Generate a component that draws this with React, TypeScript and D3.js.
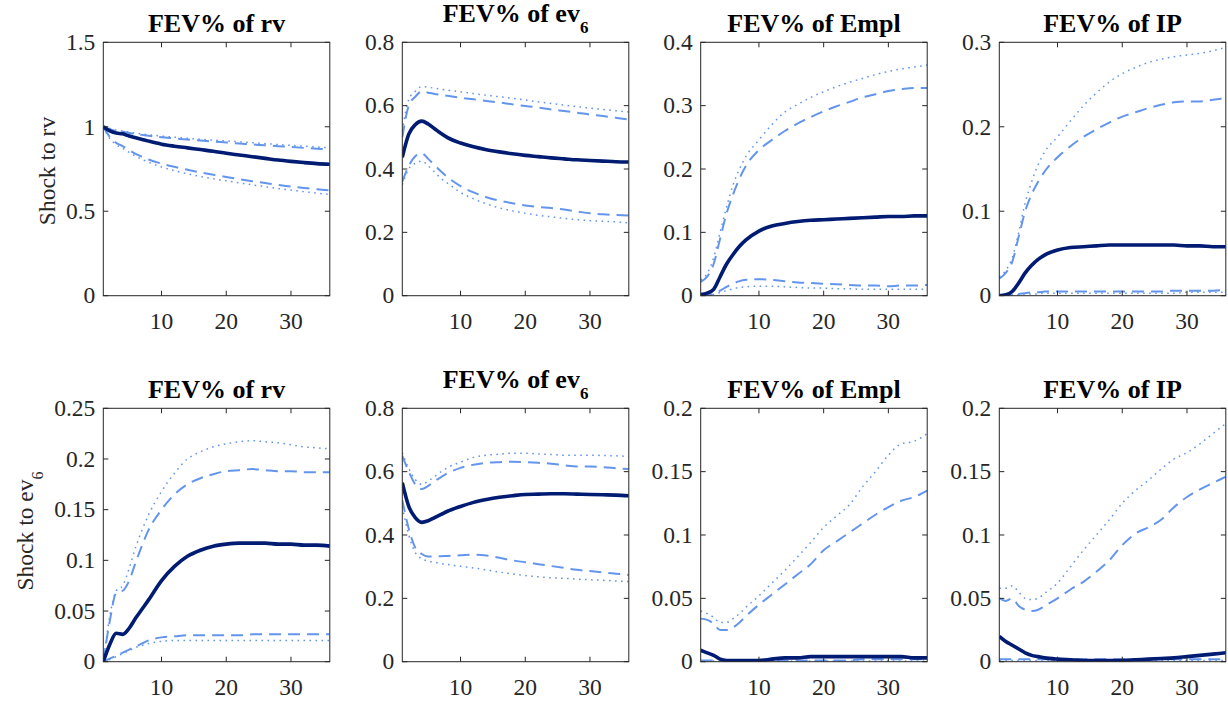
import React from "react";
import * as d3 from "d3";

const HORIZON = [1, 2, 3, 4, 5, 6, 7, 8, 10, 12, 14, 16, 18, 20, 22, 24, 26, 28, 30, 32, 34, 36];
const X_TICKS = [10, 20, 30];
const VARIABLES = ["rv", "ev", "Empl", "IP"];
const VAR_SUB = ["", "6", "", ""];
const SHOCKS = ["rv", "ev"];
const SHOCK_SUB = ["", "6"];

// Row 1: shock to rv
const RV_RV_MED = [1.0, 0.975, 0.963, 0.958, 0.945, 0.935, 0.925, 0.915, 0.897, 0.885, 0.875, 0.865, 0.855, 0.843, 0.833, 0.823, 0.813, 0.803, 0.795, 0.788, 0.782, 0.778];
const RV_RV_UP68 = [1.0, 0.985, 0.975, 0.97, 0.963, 0.957, 0.952, 0.947, 0.938, 0.931, 0.924, 0.918, 0.912, 0.907, 0.901, 0.896, 0.89, 0.885, 0.88, 0.875, 0.87, 0.866];
const RV_RV_UP90 = [1.0, 0.99, 0.98, 0.975, 0.968, 0.962, 0.957, 0.953, 0.945, 0.938, 0.932, 0.926, 0.921, 0.916, 0.911, 0.906, 0.9, 0.895, 0.89, 0.885, 0.88, 0.876];
const RV_RV_LO68 = [1.0, 0.94, 0.905, 0.885, 0.862, 0.84, 0.822, 0.806, 0.782, 0.763, 0.746, 0.73, 0.716, 0.703, 0.69, 0.678, 0.667, 0.656, 0.646, 0.638, 0.63, 0.624];
const RV_RV_LO90 = [1.0, 0.93, 0.895, 0.872, 0.848, 0.826, 0.806, 0.79, 0.762, 0.74, 0.722, 0.706, 0.692, 0.68, 0.668, 0.656, 0.645, 0.634, 0.625, 0.616, 0.607, 0.6];

const RV_EV_MED = [0.437, 0.51, 0.54, 0.551, 0.542, 0.527, 0.512, 0.499, 0.482, 0.47, 0.461, 0.454, 0.448, 0.443, 0.439, 0.435, 0.432, 0.429, 0.427, 0.425, 0.423, 0.422];
const RV_EV_UP68 = [0.5, 0.6, 0.628, 0.645, 0.641, 0.637, 0.634, 0.631, 0.625, 0.62, 0.615, 0.61, 0.604, 0.599, 0.594, 0.588, 0.583, 0.578, 0.572, 0.567, 0.562, 0.556];
const RV_EV_UP90 = [0.52, 0.62, 0.645, 0.66, 0.658, 0.655, 0.652, 0.649, 0.644, 0.638, 0.633, 0.628, 0.623, 0.618, 0.612, 0.607, 0.602, 0.597, 0.592, 0.588, 0.584, 0.58];
const RV_EV_LO68 = [0.36, 0.41, 0.44, 0.45, 0.432, 0.412, 0.392, 0.374, 0.346, 0.326, 0.311, 0.3, 0.292, 0.285, 0.28, 0.277, 0.272, 0.266, 0.26, 0.257, 0.255, 0.253];
const RV_EV_LO90 = [0.35, 0.4, 0.418, 0.425, 0.41, 0.39, 0.37, 0.355, 0.326, 0.306, 0.29, 0.277, 0.268, 0.26, 0.254, 0.249, 0.244, 0.24, 0.237, 0.235, 0.233, 0.23];

const RV_EMPL_MED = [0.002, 0.004, 0.01, 0.03, 0.05, 0.065, 0.078, 0.088, 0.102, 0.11, 0.114, 0.117, 0.119, 0.12, 0.121, 0.122, 0.123, 0.124, 0.125, 0.125, 0.126, 0.126];
const RV_EMPL_UP68 = [0.022, 0.03, 0.05, 0.09, 0.13, 0.16, 0.185, 0.205, 0.23, 0.246, 0.26, 0.272, 0.282, 0.291, 0.299, 0.306, 0.313, 0.318, 0.323, 0.326, 0.328, 0.328];
const RV_EMPL_UP90 = [0.025, 0.035, 0.06, 0.1, 0.14, 0.175, 0.2, 0.22, 0.246, 0.27, 0.29, 0.302, 0.313, 0.322, 0.33, 0.337, 0.343, 0.349, 0.354, 0.358, 0.361, 0.364];
const RV_EMPL_LO68 = [0.0, 0.0, 0.003, 0.008, 0.014, 0.019, 0.023, 0.025, 0.026, 0.025, 0.023, 0.021, 0.02, 0.019, 0.018, 0.017, 0.016, 0.016, 0.015, 0.016, 0.016, 0.017];
const RV_EMPL_LO90 = [0.0, 0.0, 0.002, 0.005, 0.008, 0.011, 0.013, 0.014, 0.015, 0.015, 0.014, 0.013, 0.012, 0.012, 0.011, 0.011, 0.01, 0.01, 0.01, 0.01, 0.01, 0.01];

const RV_IP_MED = [0.0, 0.001, 0.005, 0.015, 0.027, 0.036, 0.043, 0.048, 0.054, 0.057, 0.058, 0.059, 0.06, 0.06, 0.06, 0.06, 0.06, 0.06, 0.059, 0.059, 0.058, 0.058];
const RV_IP_UP68 = [0.02, 0.027, 0.04, 0.07, 0.1, 0.12, 0.135, 0.147, 0.164, 0.177, 0.188, 0.197, 0.205, 0.212, 0.217, 0.222, 0.226, 0.229, 0.23, 0.23, 0.232, 0.234];
const RV_IP_UP90 = [0.022, 0.03, 0.045, 0.075, 0.11, 0.135, 0.155, 0.17, 0.188, 0.207, 0.225, 0.24, 0.253, 0.263, 0.27, 0.276, 0.28, 0.283, 0.285, 0.287, 0.29, 0.294];
const RV_IP_LO68 = [0.0, 0.0, 0.001, 0.002, 0.003, 0.004, 0.004, 0.005, 0.005, 0.005, 0.005, 0.005, 0.005, 0.005, 0.005, 0.005, 0.005, 0.006, 0.006, 0.006, 0.006, 0.007];
const RV_IP_LO90 = [0.0, 0.0, 0.001, 0.001, 0.002, 0.002, 0.002, 0.003, 0.003, 0.003, 0.003, 0.003, 0.003, 0.003, 0.003, 0.003, 0.003, 0.003, 0.004, 0.004, 0.004, 0.004];

// Row 2: shock to ev6
const EV_RV_MED = [0.0, 0.017, 0.028, 0.027, 0.033, 0.043, 0.052, 0.061, 0.08, 0.094, 0.104, 0.11, 0.114, 0.116, 0.117, 0.117, 0.117, 0.116, 0.116, 0.115, 0.115, 0.114];
const EV_RV_UP68 = [0.0, 0.04, 0.068, 0.07, 0.08, 0.098, 0.115, 0.13, 0.15, 0.165, 0.175, 0.181, 0.185, 0.188, 0.189, 0.19, 0.189, 0.188, 0.188, 0.187, 0.187, 0.187];
const EV_RV_UP90 = [0.0, 0.045, 0.07, 0.075, 0.092, 0.113, 0.13, 0.145, 0.168, 0.186, 0.2, 0.207, 0.212, 0.215, 0.217, 0.218, 0.217, 0.216, 0.214, 0.212, 0.211, 0.21];
const EV_RV_LO68 = [0.0, 0.003, 0.006, 0.009, 0.012, 0.015, 0.018, 0.021, 0.024, 0.025, 0.026, 0.026, 0.026, 0.026, 0.026, 0.027, 0.027, 0.027, 0.027, 0.027, 0.027, 0.027];
const EV_RV_LO90 = [0.0, 0.002, 0.005, 0.008, 0.011, 0.014, 0.016, 0.018, 0.02, 0.021, 0.021, 0.021, 0.021, 0.021, 0.021, 0.021, 0.021, 0.021, 0.021, 0.021, 0.021, 0.021];

const EV_EV_MED = [0.565, 0.49, 0.455, 0.44, 0.445, 0.455, 0.465, 0.475, 0.49, 0.503, 0.512, 0.519, 0.524, 0.528, 0.529, 0.53, 0.53, 0.529, 0.528, 0.527, 0.526, 0.524];
const EV_EV_UP68 = [0.65, 0.6, 0.56, 0.545, 0.555, 0.57, 0.583, 0.595, 0.612, 0.622, 0.628, 0.63, 0.631, 0.63, 0.628, 0.625, 0.62, 0.616, 0.616, 0.614, 0.611, 0.608];
const EV_EV_UP90 = [0.66, 0.61, 0.575, 0.56, 0.57, 0.585, 0.6, 0.613, 0.63, 0.645, 0.652, 0.655, 0.658, 0.658, 0.656, 0.654, 0.652, 0.652, 0.652, 0.651, 0.65, 0.648];
const EV_EV_LO68 = [0.51, 0.42, 0.36, 0.34, 0.332, 0.332, 0.333, 0.334, 0.336, 0.338, 0.335, 0.328, 0.32, 0.314, 0.308, 0.302, 0.296, 0.29, 0.286, 0.282, 0.278, 0.274];
const EV_EV_LO90 = [0.49, 0.4, 0.345, 0.325, 0.318, 0.314, 0.31, 0.307, 0.301, 0.296, 0.29, 0.283, 0.277, 0.272, 0.268, 0.265, 0.263, 0.261, 0.259, 0.257, 0.255, 0.253];

const EV_EMPL_MED = [0.009, 0.007, 0.005, 0.002, 0.001, 0.001, 0.001, 0.001, 0.001, 0.002, 0.003, 0.003, 0.004, 0.004, 0.004, 0.004, 0.004, 0.004, 0.004, 0.004, 0.003, 0.003];
const EV_EMPL_UP68 = [0.034, 0.033, 0.03, 0.025, 0.025, 0.027, 0.031, 0.036, 0.045, 0.053, 0.061, 0.069, 0.077, 0.088, 0.095, 0.102, 0.109, 0.116, 0.122, 0.127, 0.13, 0.135];
const EV_EMPL_UP90 = [0.04, 0.038, 0.035, 0.031, 0.031, 0.034, 0.038, 0.043, 0.052, 0.062, 0.072, 0.083, 0.094, 0.106, 0.115, 0.124, 0.138, 0.15, 0.163, 0.172, 0.174, 0.18];
const EV_EMPL_LO68 = [0.001, 0.001, 0.001, 0.001, 0.001, 0.001, 0.001, 0.001, 0.001, 0.001, 0.001, 0.001, 0.001, 0.001, 0.001, 0.001, 0.002, 0.002, 0.002, 0.002, 0.002, 0.002];
const EV_EMPL_LO90 = [0.0005, 0.0005, 0.0005, 0.0005, 0.0005, 0.0005, 0.0005, 0.0005, 0.0005, 0.0005, 0.0005, 0.0005, 0.0005, 0.0005, 0.0005, 0.0005, 0.0005, 0.0005, 0.0005, 0.0005, 0.0005, 0.0005];

const EV_IP_MED = [0.02, 0.016, 0.013, 0.01, 0.007, 0.005, 0.004, 0.003, 0.002, 0.0015, 0.001, 0.001, 0.001, 0.001, 0.0015, 0.002, 0.0025, 0.003, 0.004, 0.005, 0.006, 0.007];
const EV_IP_UP68 = [0.05, 0.048, 0.05, 0.044, 0.041, 0.04, 0.041, 0.044, 0.05, 0.057, 0.063, 0.071, 0.08, 0.092, 0.101, 0.106, 0.112, 0.122, 0.13, 0.136, 0.141, 0.146];
const EV_IP_UP90 = [0.058, 0.058, 0.06, 0.055, 0.05, 0.049, 0.05, 0.054, 0.062, 0.075, 0.088, 0.1, 0.112, 0.125, 0.135, 0.143, 0.152, 0.16, 0.165, 0.172, 0.18, 0.188];
const EV_IP_LO68 = [0.002, 0.002, 0.002, 0.002, 0.002, 0.002, 0.002, 0.002, 0.002, 0.002, 0.002, 0.002, 0.002, 0.002, 0.002, 0.002, 0.002, 0.002, 0.002, 0.002, 0.002, 0.002];
const EV_IP_LO90 = [0.001, 0.001, 0.001, 0.001, 0.001, 0.001, 0.001, 0.001, 0.001, 0.001, 0.001, 0.001, 0.001, 0.001, 0.001, 0.001, 0.001, 0.001, 0.001, 0.001, 0.001, 0.001];

// Y tick labels per panel
const Y_TICKS_RV_RV = [0, 0.5, 1, 1.5];
const Y_TICKS_RV_EV = [0, 0.2, 0.4, 0.6, 0.8];
const Y_TICKS_RV_EMPL = [0, 0.1, 0.2, 0.3, 0.4];
const Y_TICKS_RV_IP = [0, 0.1, 0.2, 0.3];
const Y_TICKS_EV_RV = [0, 0.05, 0.1, 0.15, 0.2, 0.25];
const Y_TICKS_EV_EV = [0, 0.2, 0.4, 0.6, 0.8];
const Y_TICKS_EV_EMPL = [0, 0.05, 0.1, 0.15, 0.2];
const Y_TICKS_EV_IP = [0, 0.05, 0.1, 0.15, 0.2];

const PANELS = [
  [
    { ticks: Y_TICKS_RV_RV, med: RV_RV_MED, up68: RV_RV_UP68, up90: RV_RV_UP90, lo68: RV_RV_LO68, lo90: RV_RV_LO90 },
    { ticks: Y_TICKS_RV_EV, med: RV_EV_MED, up68: RV_EV_UP68, up90: RV_EV_UP90, lo68: RV_EV_LO68, lo90: RV_EV_LO90 },
    { ticks: Y_TICKS_RV_EMPL, med: RV_EMPL_MED, up68: RV_EMPL_UP68, up90: RV_EMPL_UP90, lo68: RV_EMPL_LO68, lo90: RV_EMPL_LO90 },
    { ticks: Y_TICKS_RV_IP, med: RV_IP_MED, up68: RV_IP_UP68, up90: RV_IP_UP90, lo68: RV_IP_LO68, lo90: RV_IP_LO90 },
  ],
  [
    { ticks: Y_TICKS_EV_RV, med: EV_RV_MED, up68: EV_RV_UP68, up90: EV_RV_UP90, lo68: EV_RV_LO68, lo90: EV_RV_LO90 },
    { ticks: Y_TICKS_EV_EV, med: EV_EV_MED, up68: EV_EV_UP68, up90: EV_EV_UP90, lo68: EV_EV_LO68, lo90: EV_EV_LO90 },
    { ticks: Y_TICKS_EV_EMPL, med: EV_EMPL_MED, up68: EV_EMPL_UP68, up90: EV_EMPL_UP90, lo68: EV_EMPL_LO68, lo90: EV_EMPL_LO90 },
    { ticks: Y_TICKS_EV_IP, med: EV_IP_MED, up68: EV_IP_UP68, up90: EV_IP_UP90, lo68: EV_IP_LO68, lo90: EV_IP_LO90 },
  ],
];

const W = 1228;
const H = 702;
const COL_LEFT = [103.3, 402.3, 700.7, 999.3];
const ROW_TOP = [42.3, 408.3];
const AX_W = 226.5;
const AX_H = 253.4;
const AXIS_COLOR = "#262626";
const NAVY = "#001b72";
const LIGHT = "#6495ED";
const FONT = "'Liberation Serif', 'Times New Roman', serif";
const TICK_FS = 23.5;
const TITLE_FS = 26;
const TICK_LEN = 5;

function Panel({ r, c }: { r: number; c: number }) {
  const p = PANELS[r][c];
  const left = COL_LEFT[c];
  const top = ROW_TOP[r];
  const x = d3.scaleLinear().domain([1, 36]).range([0, AX_W]);
  const yMax = p.ticks[p.ticks.length - 1];
  const y = d3.scaleLinear().domain([0, yMax]).range([AX_H, 0]);
  const line = d3
    .line<number>()
    .x((_, i) => x(HORIZON[i]))
    .y((d) => y(d))
    .curve(d3.curveMonotoneX);
  const clipId = `clip-${r}-${c}`;
  const series = [
    { d: p.lo90, dash: "1.6,4.4", w: 1.5, color: LIGHT },
    { d: p.up90, dash: "1.6,4.4", w: 1.5, color: LIGHT },
    { d: p.lo68, dash: "12,7", w: 2, color: LIGHT },
    { d: p.up68, dash: "12,7", w: 2, color: LIGHT },
    { d: p.med, dash: undefined, w: 3.6, color: NAVY },
  ];
  const sub = VAR_SUB[c];
  return (
    <g transform={`translate(${left},${top})`}>
      <defs>
        <clipPath id={clipId}>
          <rect x={0} y={-2} width={AX_W} height={AX_H + 2} />
        </clipPath>
      </defs>
      <g clipPath={`url(#${clipId})`}>
        {series.map((s, i) => (
          <path
            key={i}
            d={line(s.d) || ""}
            fill="none"
            stroke={s.color}
            strokeWidth={s.w}
            strokeDasharray={s.dash}
            strokeLinejoin="round"
          />
        ))}
      </g>
      {/* box */}
      <rect x={0} y={0} width={AX_W} height={AX_H} fill="none" stroke={AXIS_COLOR} strokeWidth={1} />
      {/* y ticks */}
      {p.ticks.map((t) => (
        <g key={`y${t}`}>
          <line x1={0} x2={TICK_LEN} y1={y(t)} y2={y(t)} stroke={AXIS_COLOR} strokeWidth={1} />
          <line x1={AX_W} x2={AX_W - TICK_LEN} y1={y(t)} y2={y(t)} stroke={AXIS_COLOR} strokeWidth={1} />
          <text
            x={-8}
            y={y(t)}
            dy="0.33em"
            textAnchor="end"
            fontFamily={FONT}
            fontSize={TICK_FS}
            fill={AXIS_COLOR}
          >
            {String(t)}
          </text>
        </g>
      ))}
      {/* x ticks */}
      {X_TICKS.map((t) => (
        <g key={`x${t}`}>
          <line x1={x(t)} x2={x(t)} y1={AX_H} y2={AX_H - TICK_LEN} stroke={AXIS_COLOR} strokeWidth={1} />
          <line x1={x(t)} x2={x(t)} y1={0} y2={TICK_LEN} stroke={AXIS_COLOR} strokeWidth={1} />
          <text
            x={x(t)}
            y={AX_H + 33}
            textAnchor="middle"
            fontFamily={FONT}
            fontSize={TICK_FS}
            fill={AXIS_COLOR}
          >
            {t}
          </text>
        </g>
      ))}
      {/* title */}
      <text
        x={AX_W / 2}
        y={sub ? -20 : -10}
        textAnchor="middle"
        fontFamily={FONT}
        fontSize={TITLE_FS}
        fontWeight="bold"
        fill="#000"
      >
        {`FEV% of ${VARIABLES[c]}`}
        {sub ? (
          <tspan dy={11} fontSize={17}>
            {sub}
          </tspan>
        ) : null}
      </text>
    </g>
  );
}

export default function App() {
  return (
    <svg
      width={W}
      height={H}
      viewBox={`0 0 ${W} ${H}`}
      style={{ position: "absolute", left: 0, top: 0, background: "#fff" }}
    >
      <rect x={0} y={0} width={W} height={H} fill="#fff" />
      {[0, 1].map((r) =>
        [0, 1, 2, 3].map((c) => <Panel key={`${r}-${c}`} r={r} c={c} />)
      )}
      {/* row labels */}
      <text
        transform={`translate(55,171) rotate(-90)`}
        textAnchor="middle"
        fontFamily={FONT}
        fontSize={TICK_FS}
        fill={AXIS_COLOR}
      >
        {`Shock to ${SHOCKS[0]}`}
      </text>
      <text
        transform={`translate(33,531) rotate(-90)`}
        textAnchor="middle"
        fontFamily={FONT}
        fontSize={TICK_FS}
        fill={AXIS_COLOR}
      >
        {`Shock to ${SHOCKS[1]}`}
        <tspan dy={10} fontSize={16}>
          {SHOCK_SUB[1]}
        </tspan>
      </text>
    </svg>
  );
}
